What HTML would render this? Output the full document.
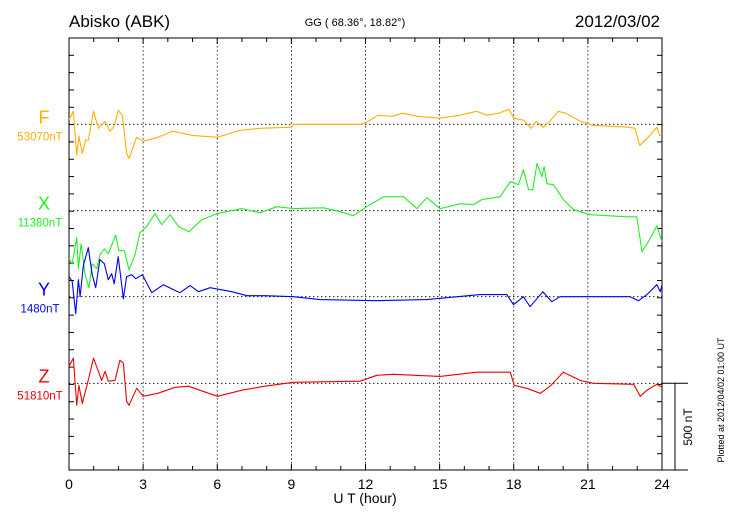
<!DOCTYPE html>
<html><head><meta charset="utf-8">
<style>
body{margin:0;background:#fff;}
svg{display:block;font-family:"Liberation Sans",sans-serif;}
</style></head>
<body>
<svg id="chart" width="730" height="520" viewBox="0 0 730 520" xmlns="http://www.w3.org/2000/svg">
<rect x="0" y="0" width="730" height="520" fill="#fff"/>
<text x="69" y="27" font-size="17">Abisko (ABK)</text>
<text x="355" y="26" font-size="11" text-anchor="middle">GG ( 68.36°,  18.82°)</text>
<text x="660" y="27" font-size="17" text-anchor="end">2012/03/02</text>
<g id="grid"></g>
<g id="axes"></g>
<g id="series"></g>
<g id="labels"></g>
<text x="365" y="503" font-size="14" text-anchor="middle">U T (hour)</text>
<text transform="translate(692,427) rotate(-90)" font-size="12" text-anchor="middle">500 nT</text>
<text transform="translate(724,400) rotate(-90)" font-size="9" text-anchor="middle">Plotted at 2012/04/02 01:00 UT</text>
</svg>
<script>
const xTicks = [0,3,6,9,12,15,18,21,24];
const seriesNames = ["F","X","Y","Z"];
const baselineLabels = ["53070nT","11380nT","1480nT","51810nT"];
const fTimes = [0,0.18,0.31,0.4,0.54,0.67,0.78,0.99,1.19,1.46,1.66,1.83,1.99,2.16,2.33,2.43,2.74,3.0,3.6,4.2,5.0,6.0,6.9,7.73,9.0,9.1,10.4,11.8,12.05,12.5,13.1,13.5,14.1,15.0,15.8,16.5,16.9,17.4,17.8,18.0,18.4,18.7,18.9,19.2,19.5,19.8,20.1,20.7,21.2,22.6,22.9,23.1,23.4,23.8,23.9,24];
const fValues = [29,75,-179,-69,-168,-92,-92,75,-23,17,-40,-12,81,52,-168,-197,-75,-98,-75,-40,-64,-75,-35,-23,-17,0,0,0,12,52,46,64,46,35,52,75,52,64,87,35,23,-23,17,-17,23,75,64,17,-6,-17,-23,-121,-81,-17,-64,-58];
const xTimes = [0,0.13,0.31,0.38,0.49,0.65,0.81,0.94,1.12,1.25,1.43,1.59,1.89,2.02,2.24,2.43,2.67,2.87,3.14,3.48,3.75,4.09,4.43,4.86,5.37,6.0,7.0,7.73,8.41,9.08,10.3,10.97,11.51,12.05,12.73,13.54,14.08,14.48,15.02,15.83,16.37,16.71,17.45,17.86,18.19,18.39,18.6,18.77,18.94,19.14,19.23,19.34,19.61,20.01,20.42,21.1,22.58,22.98,23.19,23.52,23.79,24];
const xValues = [-277,-306,-156,-335,-191,-370,-445,-306,-335,-254,-220,-249,-139,-231,-231,-341,-254,-127,-92,-17,-81,-23,-92,-121,-52,-17,12,-12,23,12,17,-6,-29,23,81,81,12,75,12,40,35,64,81,168,150,237,121,121,272,197,254,156,150,64,6,-23,-35,-35,-237,-162,-87,-179];
const yTimes = [0,0.13,0.27,0.38,0.45,0.58,0.78,0.94,1.08,1.25,1.43,1.59,1.73,1.83,1.99,2.2,2.33,2.54,2.7,2.97,3.35,3.82,4.49,4.9,5.24,5.71,6.59,7.2,7.93,9.08,10.16,12.46,14.48,16.64,17.72,17.99,18.39,18.66,19.18,19.54,19.87,22.71,23.05,23.39,23.79,23.93,24];
const yValues = [116,87,-98,98,0,179,283,127,52,214,191,98,133,75,231,-12,116,127,104,127,23,69,23,64,29,52,29,6,6,0,-17,-23,-17,12,12,-46,0,-58,29,-29,0,0,-23,12,69,29,69];
const zTimes = [0,0.18,0.31,0.4,0.54,0.72,0.99,1.19,1.32,1.46,1.59,1.86,2.06,2.2,2.33,2.43,2.74,3.0,3.6,4.29,4.83,6.0,7.0,7.93,9.08,11.78,12.46,13.13,15.02,16.5,17.86,18.02,18.53,19.07,19.47,20.01,20.69,21.23,22.85,23.12,23.39,23.79,24];
const zValues = [98,145,-127,-12,-116,-17,145,69,17,69,12,17,133,116,-104,-127,-29,-75,-58,-23,-17,-75,-40,-17,6,12,46,52,40,64,64,-12,-29,-58,-17,64,17,0,-6,-75,-40,-6,-23];

const svgNS = "http://www.w3.org/2000/svg";
const L = 69, R = 662, T = 38, B = 470;
const baselines = [124.3, 210.7, 296.7, 383.3];
const pxPerNT = 86.6 / 500;
const colors = ["#ffb000", "#22ee22", "#0000ee", "#ee0000"];
function xScale(t){ return L + (R - L) * t / 24; }
function yScale(i, v){ return baselines[i] - v * pxPerNT; }
function mk(tag, attrs, parent){
  const el = document.createElementNS(svgNS, tag);
  for (const k in attrs) el.setAttribute(k, attrs[k]);
  parent.appendChild(el);
  return el;
}
const grid = document.getElementById("grid");
const axes = document.getElementById("axes");
const seriesG = document.getElementById("series");
const labelsG = document.getElementById("labels");

// vertical dotted grid
xTicks.forEach(function(h){
  if (h === 0 || h === 24) return;
  const ln = mk("line", {x1:xScale(h), x2:xScale(h), y1:T, y2:B, stroke:"#000", "stroke-width":0.8, "stroke-dasharray":"1.5,2.5"}, grid);
  
  
});
// baseline dotted lines
baselines.forEach(function(b){
  const ln = mk("line", {x1:L, x2:R, y1:b, y2:b, stroke:"#000", "stroke-width":0.8, "stroke-dasharray":"1.5,2.5"}, grid);
  
  
});
// frame
const frame = mk("rect", {x:L, y:T, width:R-L, height:B-T, fill:"none", stroke:"#000", "stroke-width":1}, axes);


// hourly ticks top & bottom
for (let h = 0; h <= 24; h++) {
  const big = h % 3 === 0;
  const tb = mk("line", {x1:xScale(h), x2:xScale(h), y1:B, y2:B-(big?6:4), stroke:"#000", "stroke-width":1}, axes);
  
  
  const tt = mk("line", {x1:xScale(h), x2:xScale(h), y1:T, y2:T+(big?6:4), stroke:"#000", "stroke-width":1}, axes);
  
  
}
// y ticks every 100 nT
for (let k = 1; k < 25; k++) {
  const y = T + k * 100 * pxPerNT;
  if (y >= B) break;
  const a = mk("line", {x1:L, x2:L+5, y1:y, y2:y, stroke:"#000", "stroke-width":1}, axes);
  
  
  const b = mk("line", {x1:R, x2:R-5, y1:y, y2:y, stroke:"#000", "stroke-width":1}, axes);
  
  
}
// x tick labels
xTicks.forEach(function(h){
  const tx = mk("text", {x:xScale(h), y:489, "font-size":14, "text-anchor":"middle"}, axes);
  tx.textContent = h;
  
  
});
// scale bar
const sb1 = mk("line", {x1:R, x2:688, y1:baselines[3], y2:baselines[3], stroke:"#000", "stroke-width":1}, axes);


const sb2 = mk("line", {x1:R, x2:688, y1:B, y2:B, stroke:"#000", "stroke-width":1}, axes);


const sb3 = mk("line", {x1:675, x2:675, y1:baselines[3], y2:B, stroke:"#000", "stroke-width":1}, axes);



// series
const allTimes = [fTimes, xTimes, yTimes, zTimes];
const allValues = [fValues, xValues, yValues, zValues];
allTimes.forEach(function(ts, i){
  const vs = allValues[i];
  const pts = ts.map(function(t, j){ return xScale(t).toFixed(1) + "," + yScale(i, vs[j]).toFixed(1); }).join(" ");
  const pl = mk("polyline", {points:pts, fill:"none", stroke:colors[i], "stroke-width":1.1, "stroke-linejoin":"round"}, seriesG);
  
  
  const nm = mk("text", {x:44, y:baselines[i]-1, "font-size":18, "text-anchor":"middle", fill:colors[i]}, labelsG);
  nm.textContent = seriesNames[i];
  
  
  const bl = mk("text", {x:40, y:baselines[i]+16, "font-size":11.5, "text-anchor":"middle", fill:colors[i]}, labelsG);
  bl.textContent = baselineLabels[i];
  
  
});
</script>
</body></html>
